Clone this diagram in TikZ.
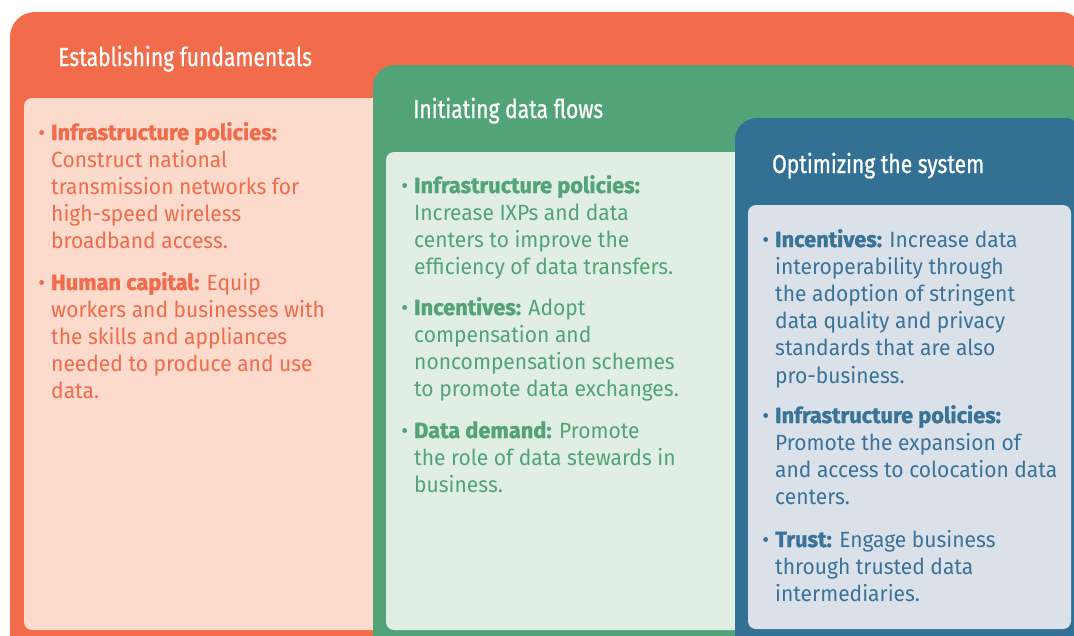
\documentclass[tikz,border=0pt]{standalone}
\usepackage{fontspec}
\setmainfont[FakeStretch=0.955, BoldFeatures={FakeStretch=0.99, FakeBold=1.2}]{Fira Sans}
\newfontfamily\ttlfont[FakeStretch=0.81, FakeBold=0.8]{Fira Sans}
\definecolor{orA}{HTML}{F26B4A}
\definecolor{orB}{HTML}{FCDBCC}
\definecolor{grA}{HTML}{52A478}
\definecolor{grB}{HTML}{E0EEE4}
\definecolor{blA}{HTML}{327193}
\definecolor{blB}{HTML}{DBE1E9}
\definecolor{blT}{HTML}{3A7399}
\tikzset{
  ttl/.style={anchor=base west, inner sep=0pt, text=white, font=\ttlfont\fontsize{26}{30}\selectfont},
  item/.style={anchor=base west, inner sep=0pt, font=\fontsize{22}{27.2}\selectfont},
}
\newcommand{\bul}{\llap{•\hspace{6pt}}}
\newcommand{\itm}[1]{\begin{tabular}[t]{@{}l@{}}#1\end{tabular}}
\begin{document}
\begin{tikzpicture}[x=1pt,y=-1pt]
\clip (0,0) rectangle (1074,635);
% orange panel
\fill[orA] (10,636) [rounded corners=12pt] -- (10,300) [rounded corners=25pt] -- (10,12) [rounded corners=18pt] -- (1080,12) [sharp corners] -- (1080,640) -- (10,640) -- cycle;
\fill[orB, rounded corners=8pt] (24,98) rectangle (500,630);
% green panel
\fill[grA] (373,636) [rounded corners=12pt] -- (373,300) [rounded corners=22pt] -- (373,65) [rounded corners=14pt] -- (1080,65) [sharp corners] -- (1080,640) -- (373,640) -- cycle;
\fill[grB, rounded corners=8pt] (386,152) rectangle (850,630);
% blue panel
\fill[blA] (735,636) [rounded corners=12pt] -- (735,300) [rounded corners=22pt] -- (735,118) [rounded corners=14pt] -- (1080,118) [sharp corners] -- (1080,640) -- (735,640) -- cycle;
\fill[blB, rounded corners=8pt] (748,205) rectangle (1071,629);
% titles
\node[ttl] (t1) at (58,66) {Establishing fundamentals};
\node[ttl] (t2) at (413,118) {Initiating data flows};
\node[ttl] (t3) at (772,173) {Optimizing the system};
% orange items
\node[item, text=orA] (o1) at (51,140) {\itm{\bul\textbf{Infrastructure policies:}\\Construct national\\transmission networks for\\high-speed wireless\\broadband access.}};
\node[item, text=orA] (o2) at (51,290) {\itm{\bul\textbf{Human capital:} Equip\\workers and businesses with\\the skills and appliances\\needed to produce and use\\data.}};
% green items
\node[item, text=grA] (g1) at (414,193) {\itm{\bul\textbf{Infrastructure policies:}\\Increase IXPs and data\\centers to improve the\\efficiency of data transfers.}};
\node[item, text=grA] (g2) at (414,315) {\itm{\bul\textbf{Incentives:} Adopt\\compensation and\\noncompensation schemes\\to promote data exchanges.}};
\node[item, text=grA] (g3) at (414,438) {\itm{\bul\textbf{Data demand:} Promote\\the role of data stewards in\\business.}};
% blue items
\node[item, text=blT] (b1) at (775,247) {\itm{\bul\textbf{Incentives:} Increase data\\interoperability through\\the adoption of stringent\\data quality and privacy\\standards that are also\\pro-business.}};
\node[item, text=blT] (b2) at (775,423) {\itm{\bul\textbf{Infrastructure policies:}\\Promote the expansion of\\and access to colocation data\\centers.}};
\node[item, text=blT] (b3) at (775,547) {\itm{\bul\textbf{Trust:} Engage business\\through trusted data\\intermediaries.}};
\end{tikzpicture}
\end{document}
